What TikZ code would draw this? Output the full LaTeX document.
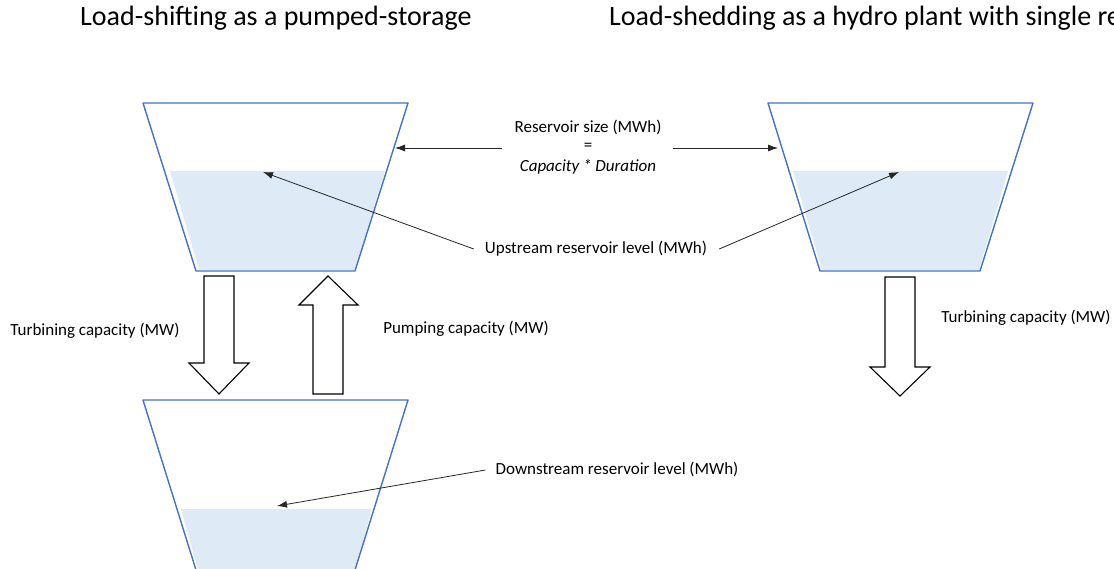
\documentclass[tikz,border=0pt]{standalone}
\usepackage{fontspec}
\setmainfont{Carlito}
\usetikzlibrary{arrows.meta}
\definecolor{wall}{HTML}{4472C4}
\definecolor{water}{HTML}{DEEBF7}
\tikzset{
  lbl/.style={font=\fontsize{17}{20}\selectfont, inner sep=0pt},
  ttl/.style={font=\fontsize{28}{32}\selectfont, inner sep=0pt, anchor=west},
  basin/.style={draw=wall, line width=1.4pt, line join=round},
  pointer/.style={draw=black!85, line width=0.8pt, -{Latex[length=10pt,width=7pt]}},
  bigarrow/.style={draw=black, line width=1.1pt, fill=white, line join=miter}
}
\begin{document}
\begin{tikzpicture}[x=1pt,y=-1pt]
        \useasboundingbox (0,0) rectangle (1114,568);
        % titles
        \node[ttl] (t1) at (80,18) {Load-shifting as a pumped-storage};
        \node[ttl] (t2) at (609,18) {Load-shedding as a hydro plant with single re};

        % water levels
        \fill[water] (170,171) -- (385,171) -- (355,270) -- (199,270) -- cycle;
        \fill[water] (181,509) -- (372,509) -- (355,570) -- (198,570) -- cycle;
        \fill[water] (793,171) -- (1008,171) -- (979,270) -- (822,270) -- cycle;

        % reservoirs
        \draw[basin] (143,103) -- (408,103) -- (355,271) -- (196,271) -- cycle;
        \draw[basin] (196,570) -- (143,400) -- (408,400) -- (355,570);
        \draw[basin] (768,103) -- (1033,103) -- (980,271) -- (820,271) -- cycle;

        % flows
        \draw[bigarrow] (204,276) -- (234,276) -- (234,363) -- (249,363) -- (219,394) -- (189,363) -- (204,363) -- cycle;
        \draw[bigarrow] (313,394) -- (343,394) -- (343,305) -- (358,305) -- (328,276) -- (299,305) -- (313,305) -- cycle;
        \draw[bigarrow] (885,277) -- (915,277) -- (915,367) -- (930,367) -- (900,396) -- (870,367) -- (885,367) -- cycle;

        % labels
        \node[lbl] (turbL) at (95,331) {Turbining capacity (MW)};
        \node[lbl] (pump) at (466,329) {Pumping capacity (MW)};
        \node[lbl] (turbR) at (1026,318) {Turbining capacity (MW)};
        \node[lbl] (size) at (588,127) {Reservoir size (MWh)};
        \node[lbl] (eq) at (588,147) {=};
        \node[lbl] (dur) at (588,167) {\itshape Capacity * Duration};
        \node[lbl] (up) at (596,249) {Upstream reservoir level (MWh)};
        \node[lbl] (down) at (617,469) {Downstream reservoir level (MWh)};

        % targets
        \coordinate (wallL) at (395,148);
        \coordinate (wallR) at (778,148);
        \coordinate (upL) at (263,172);
        \coordinate (upR) at (899,172);
        \coordinate (downL) at (277,506);

        \draw[pointer] (502,148) -- (wallL);
        \draw[pointer] (673,148) -- (wallR);
        \draw[pointer] (up.west) ++(-11,0) -- (upL);
        \draw[pointer] (up.east) ++(12,0) -- (upR);
        \draw[pointer] (down.west) ++(-10,1) -- (downL);
    \end{tikzpicture}
\end{document}
